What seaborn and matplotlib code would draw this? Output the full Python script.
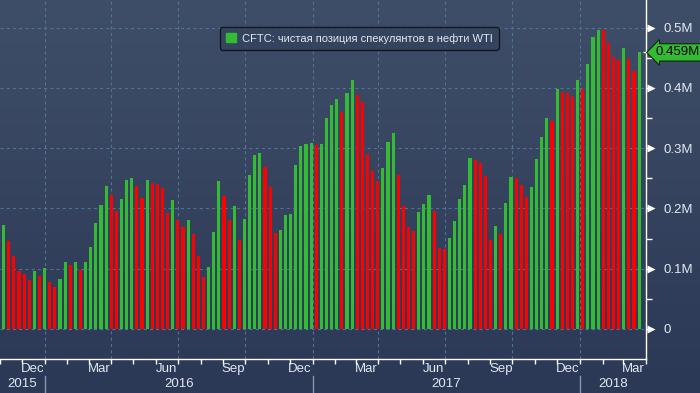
import matplotlib
matplotlib.use("Agg")
import matplotlib.pyplot as plt
import matplotlib.transforms as mtransforms
from matplotlib.patches import Patch
import numpy as np
import pandas as pd
import seaborn as sns

# CFTC net speculative position in WTI, weekly, million contracts
start_date = "2015-11-06"
net_position = [
    0.172, 0.146, 0.121, 0.096, 0.091, 0.081, 0.096, 0.088, 0.101, 0.078,
    0.070, 0.083, 0.111, 0.106, 0.111, 0.098, 0.111, 0.136, 0.176, 0.206,
    0.237, 0.222, 0.196, 0.215, 0.247, 0.250, 0.237, 0.217, 0.247, 0.242,
    0.241, 0.234, 0.192, 0.214, 0.181, 0.169, 0.181, 0.157, 0.121, 0.086,
    0.103, 0.161, 0.245, 0.220, 0.181, 0.204, 0.148, 0.182, 0.255, 0.288,
    0.292, 0.269, 0.235, 0.159, 0.164, 0.189, 0.190, 0.272, 0.303, 0.307,
    0.308, 0.305, 0.307, 0.350, 0.371, 0.381, 0.360, 0.391, 0.414, 0.388,
    0.376, 0.290, 0.262, 0.245, 0.267, 0.310, 0.325, 0.255, 0.204, 0.169,
    0.162, 0.194, 0.207, 0.222, 0.196, 0.134, 0.133, 0.151, 0.179, 0.215,
    0.239, 0.283, 0.280, 0.275, 0.254, 0.148, 0.171, 0.157, 0.209, 0.252,
    0.250, 0.239, 0.219, 0.235, 0.282, 0.318, 0.350, 0.345, 0.398, 0.393,
    0.391, 0.385, 0.413, 0.398, 0.439, 0.484, 0.497, 0.496, 0.474, 0.452,
    0.446, 0.467, 0.448, 0.428, 0.459,
]
y_ticks = [0, 0.1, 0.2, 0.3, 0.4, 0.5]
month_labels = ["2015-12", "2016-03", "2016-06", "2016-09", "2016-12",
                "2017-03", "2017-06", "2017-09", "2017-12", "2018-03"]
years = ["2015", "2016", "2017", "2018"]
legend_text = "CFTC: чистая позиция спекулянтов в нефти WTI"

GREEN = "#33bb33"
RED = "#ff0000"
TXT = "#e2e8f0"
GRID = "#4f7394"

plt.rcParams["font.family"] = ["Liberation Sans", "DejaVu Sans"]

t0 = pd.Timestamp(start_date)


def pos(d):
    # date -> bar index units (one bar per week)
    return (pd.Timestamp(d) - t0).days / 7


df = pd.DataFrame({"week": np.arange(len(net_position)), "position": net_position})
df["move"] = np.where(df["position"].diff().fillna(1) >= 0, "up", "down")

fig = plt.figure(figsize=(7, 3.93), dpi=100)

# background gradient
bg = fig.add_axes([0, 0, 1, 1], zorder=0)
top = np.array([63, 78, 104]) / 255
bot = np.array([43, 56, 86]) / 255
t = np.linspace(0, 1, 256)[:, None]
grad = (top * (1 - t) + bot * t)[:, None, :]
bg.imshow(grad, aspect="auto", extent=[0, 1, 0, 1])
bg.axis("off")

ax = fig.add_axes([0, 34 / 393, 645.7 / 700, 359 / 393], zorder=1)
ax.patch.set_alpha(0)

sns.barplot(data=df, x="week", y="position", hue="move",
            palette={"up": GREEN, "down": RED}, native_scale=True,
            dodge=False, width=0.6, saturation=1, errorbar=None,
            legend=False, linewidth=0, ax=ax, zorder=3)

ax.set_xlim(-0.29, 124.46)
ax.set_ylim(-0.05, 0.546)
ax.set_xlabel("")
ax.set_ylabel("")

for s in ["left", "top"]:
    ax.spines[s].set_visible(False)
for s in ["bottom", "right"]:
    ax.spines[s].set_color("white")
    ax.spines[s].set_linewidth(1)

# grid
for v in y_ticks:
    ax.axhline(v, color=GRID, lw=0.8, ls=(0, (2.8, 2.8)), zorder=1)
for q in pd.date_range("2016-01-01", "2018-01-01", freq="QS"):
    ax.axvline(pos(q), color=GRID, lw=0.8, ls=(0, (2.8, 2.8)), zorder=1)

# right axis
ax.yaxis.tick_right()
ax.set_yticks(y_ticks)
ax.set_yticklabels(["0" if v == 0 else f"{v:.1f}M" for v in y_ticks])
ax.set_yticks([0.05, 0.15, 0.25, 0.35, 0.45], minor=True)
ax.tick_params(axis="y", which="major", length=5, width=1, color="white",
               pad=8, labelcolor=TXT, labelsize=9.5)
ax.tick_params(axis="y", which="minor", length=4, width=1, color="white")
ytrans = mtransforms.blended_transform_factory(ax.transAxes, ax.transData)
ax.plot([1.0] * len(y_ticks), y_ticks, ">", ms=5.5, color="white", mec="none",
        clip_on=False, zorder=5,
        transform=mtransforms.offset_copy(ytrans, fig, x=5, units="dots"))

# bottom axis: month ticks and labels, years underneath
months = pd.date_range("2015-11-01", "2018-04-01", freq="MS")
ax.set_xticks([pos(m) for m in months], minor=True)
ax.set_xticks([pos(pd.Timestamp(m) + pd.Timedelta(days=14)) for m in month_labels])
ax.set_xticklabels([pd.Timestamp(m).strftime("%b") for m in month_labels])
ax.tick_params(axis="x", which="major", length=0, pad=3, labelcolor=TXT, labelsize=9.5)
ax.tick_params(axis="x", which="minor", length=3.5, width=1, color="white")

xtrans = mtransforms.blended_transform_factory(ax.transData, ax.transAxes)
xmin, xmax = ax.get_xlim()
for y in years:
    a = max(pos(f"{y}-01-01"), xmin)
    b = min(pos(f"{int(y) + 1}-01-01"), xmax)
    ax.text((a + b) / 2, -0.0696, y, transform=xtrans, ha="center", va="center",
            color=TXT, fontsize=9.5, clip_on=False)
    if pos(f"{y}-01-01") > xmin:
        ax.plot([pos(f"{y}-01-01")] * 2, [-0.047, -0.1], color="#8a97a8", lw=1,
                transform=xtrans, clip_on=False)

# last value flag
last = net_position[-1]
ax.plot([1.0], [last], "_", ms=5, color="white", transform=ytrans, clip_on=False, zorder=5)
ax.text(656 / 645.7, last, f"{last:.3f}M", transform=ytrans, ha="left", va="center",
        fontsize=9.5, color="black", clip_on=False, zorder=6,
        bbox=dict(boxstyle="larrow,pad=0.2", fc=GREEN, ec="#0c2a0c", lw=0.8))

leg = ax.legend(handles=[Patch(color=GREEN, label=legend_text)],
                loc="upper left", bbox_to_anchor=(220 / 645.7, 1 - 27 / 359),
                borderaxespad=0, frameon=True, fancybox=True, fontsize=8,
                handlelength=0.9, handleheight=0.9, handletextpad=0.5,
                borderpad=0.55, labelcolor=TXT)
leg.get_frame().set_facecolor("#34435d")
leg.get_frame().set_edgecolor("#0a0a0a")
leg.get_frame().set_linewidth(1)
leg.set_zorder(6)

fig.savefig("out.png", dpi=100)
